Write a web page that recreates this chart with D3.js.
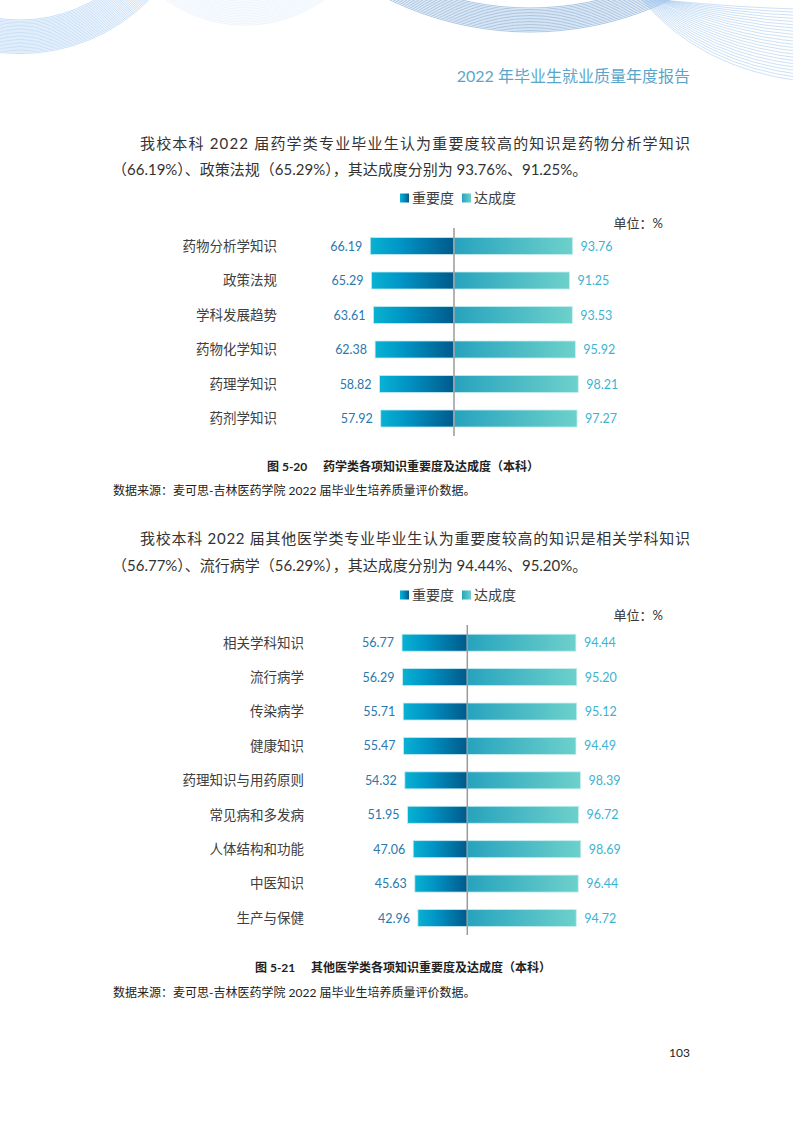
<!DOCTYPE html>
<html>
<head>
<meta charset="utf-8">
<script src="https://cdn.jsdelivr.net/npm/d3@7/dist/d3.min.js"></script>
<style>
  html, body { margin: 0; padding: 0; background: #fff; }
  svg { display: block; }
</style>
</head>
<body>
<svg id="page" width="793" height="1122"></svg>
<script>
// ---------- data ----------
const cats1 = ["药物分析学知识", "政策法规", "学科发展趋势", "药物化学知识", "药理学知识", "药剂学知识"];
const importance1 = [66.19, 65.29, 63.61, 62.38, 58.82, 57.92];
const achievement1 = [93.76, 91.25, 93.53, 95.92, 98.21, 97.27];

const cats2 = ["相关学科知识", "流行病学", "传染病学", "健康知识", "药理知识与用药原则", "常见病和多发病", "人体结构和功能", "中医知识", "生产与保健"];
const importance2 = [56.77, 56.29, 55.71, 55.47, 54.32, 51.95, 47.06, 45.63, 42.96];
const achievement2 = [94.44, 95.20, 95.12, 94.49, 98.39, 96.72, 98.69, 96.44, 94.72];

const seriesNames = ["重要度", "达成度"];
const unitLabel = "单位：%";

const para1 = ["我校本科 2022 届药学类专业毕业生认为重要度较高的知识是药物分析学知识",
               "（66.19%）、政策法规（65.29%），其达成度分别为 93.76%、91.25%。"];
const para2 = ["我校本科 2022 届其他医学类专业毕业生认为重要度较高的知识是相关学科知识",
               "（56.77%）、流行病学（56.29%），其达成度分别为 94.44%、95.20%。"];
const caption1 = ["图 5-20", "药学类各项知识重要度及达成度（本科）"];
const caption2 = ["图 5-21", "其他医学类各项知识重要度及达成度（本科）"];
const sourceText = "数据来源：麦可思-吉林医药学院 2022 届毕业生培养质量评价数据。";
const headerText = "2022 年毕业生就业质量年度报告";
const pageNum = "103";

// ---------- setup ----------
const FONT = "Lato, 'Noto Sans CJK SC', sans-serif";
const svg = d3.select("#page");
const defs = svg.append("defs");

const gImp = defs.append("linearGradient").attr("id", "gImp")
  .attr("x1", "0%").attr("x2", "100%").attr("y1", "0%").attr("y2", "0%");
gImp.append("stop").attr("offset", "0%").attr("stop-color", "#08b2d2");
gImp.append("stop").attr("offset", "35%").attr("stop-color", "#0096c6");
gImp.append("stop").attr("offset", "100%").attr("stop-color", "#005a8b");

const gAch = defs.append("linearGradient").attr("id", "gAch")
  .attr("x1", "0%").attr("x2", "100%").attr("y1", "0%").attr("y2", "0%");
gAch.append("stop").attr("offset", "0%").attr("stop-color", "#27a3be");
gAch.append("stop").attr("offset", "100%").attr("stop-color", "#6dd1cb");

// ---------- decorative header arcs ----------
const deco = svg.append("g").attr("fill", "none");
function arcs(cx, cy, radii, color, w, op) {
  deco.selectAll(null).data(radii).enter().append("circle")
    .attr("cx", cx).attr("cy", cy).attr("r", d => d)
    .attr("stroke", color).attr("stroke-width", w).attr("stroke-opacity", op);
}
arcs(20, -128, d3.range(148, 182, 1.4), "#9cc6f0", 0.6, 0.9);
arcs(245, -110, d3.range(108, 136, 1.6), "#c9e0f5", 0.5, 0.7);
arcs(530, -290, d3.range(298, 323, 1.5), "#6f9fd2", 0.7, 0.85);
// right fan
const fan = d3.range(0, 1.0001, 1 / 22);
deco.selectAll(null).data(fan).enter().append("path")
  .attr("d", t => {
    const sx = 642 + 20 * (1 - t), ey = 6 + 72 * t;
    const cx = 745 - 45 * t, cy = 8 + 60 * t;
    return `M${sx},0 Q${cx},${cy} 800,${ey + 3}`;
  })
  .attr("stroke", "#a9cdf0").attr("stroke-width", 0.6);

// header text
svg.append("text").attr("x", 690).attr("y", 82).attr("text-anchor", "end")
  .attr("font-family", FONT).attr("font-size", 16).attr("fill", "#5aa6cb")
  .text(headerText);

// ---------- paragraphs ----------
function paragraph(lines, y1, y2) {
  svg.append("text").attr("x", 140).attr("y", y1)
    .attr("font-family", FONT).attr("font-size", 15).attr("fill", "#333")
    .attr("textLength", 550).attr("lengthAdjust", "spacing")
    .text(lines[0]);
  svg.append("text").attr("x", 112).attr("y", y2)
    .attr("font-family", FONT).attr("font-size", 15).attr("fill", "#333")
    .text(lines[1]);
}
paragraph(para1, 149, 175);
paragraph(para2, 544, 571);

// ---------- chart ----------
function chart(opts) {
  const { cats, imp, ach, cx, y0, y1, pxPerUnit, labelX, axisTop, axisBottom, legendY, unitY } = opts;
  const g = svg.append("g");
  const x = d3.scaleLinear().domain([0, 100]).range([0, 100 * pxPerUnit]);
  const y = d3.scalePoint().domain(cats).range([y0, y1]);
  const bh = 17;

  // legend
  const leg = [{ name: seriesNames[0], fill: "url(#gImp)", x: 400 }, { name: seriesNames[1], fill: "url(#gAch)", x: 462 }];
  leg.forEach(l => {
    g.append("rect").attr("x", l.x).attr("y", legendY - 4.5).attr("width", 9).attr("height", 9).attr("fill", l.fill);
    g.append("text").attr("x", l.x + 12).attr("y", legendY).attr("dy", "0.36em")
      .attr("font-family", FONT).attr("font-size", 14).attr("fill", "#404040").text(l.name);
  });
  g.append("text").attr("x", 663).attr("y", unitY).attr("dy", "0.36em").attr("text-anchor", "end")
    .attr("font-family", FONT).attr("font-size", 13).attr("fill", "#333").text(unitLabel);

  const rows = cats.map((c, i) => ({ c, imp: imp[i], ach: ach[i] }));

  // bars
  g.selectAll(".bi").data(rows).enter().append("rect")
    .attr("x", d => cx - x(d.imp)).attr("y", d => y(d.c) - bh / 2)
    .attr("width", d => x(d.imp)).attr("height", bh)
    .attr("fill", "url(#gImp)").attr("stroke", "#c6eaf1").attr("stroke-width", 0.8);
  g.selectAll(".ba").data(rows).enter().append("rect")
    .attr("x", cx).attr("y", d => y(d.c) - bh / 2)
    .attr("width", d => x(d.ach)).attr("height", bh)
    .attr("fill", "url(#gAch)").attr("stroke", "#c6eef0").attr("stroke-width", 0.8);

  // axis line
  g.append("line").attr("x1", cx).attr("x2", cx).attr("y1", axisTop).attr("y2", axisBottom)
    .attr("stroke", "#9a9a9a").attr("stroke-width", 1.5);

  // category labels
  g.selectAll(".cl").data(rows).enter().append("text")
    .attr("x", labelX).attr("y", d => y(d.c)).attr("dy", "0.36em").attr("text-anchor", "end")
    .attr("font-family", FONT).attr("font-size", 13.5).attr("fill", "#404040").text(d => d.c);

  // value labels
  g.selectAll(".vl").data(rows).enter().append("text")
    .attr("x", d => cx - x(d.imp) - 8).attr("y", d => y(d.c)).attr("dy", "0.36em").attr("text-anchor", "end")
    .attr("font-family", FONT).attr("font-size", 12.5).attr("fill", "#2a78ad").text(d => d.imp.toFixed(2));
  g.selectAll(".vr").data(rows).enter().append("text")
    .attr("x", d => cx + x(d.ach) + 8).attr("y", d => y(d.c)).attr("dy", "0.36em").attr("text-anchor", "start")
    .attr("font-family", FONT).attr("font-size", 12.5).attr("fill", "#3cb3d2").text(d => d.ach.toFixed(2));
}

chart({ cats: cats1, imp: importance1, ach: achievement1, cx: 454, y0: 246, y1: 418.5, pxPerUnit: 1.265,
        labelX: 277, axisTop: 228, axisBottom: 436, legendY: 198, unitY: 223 });
chart({ cats: cats2, imp: importance2, ach: achievement2, cx: 467.3, y0: 642.7, y1: 918, pxPerUnit: 1.15,
        labelX: 304, axisTop: 625, axisBottom: 935, legendY: 595, unitY: 615 });

// ---------- captions ----------
function caption(c, x1, x2, y, sy) {
  svg.append("text").attr("x", x1).attr("y", y).attr("font-family", FONT).attr("font-size", 12)
    .attr("font-weight", "bold").attr("fill", "#222").text(c[0]);
  svg.append("text").attr("x", x2).attr("y", y).attr("font-family", FONT).attr("font-size", 12)
    .attr("font-weight", "bold").attr("fill", "#222").text(c[1]);
  svg.append("text").attr("x", 113).attr("y", sy).attr("font-family", FONT).attr("font-size", 12)
    .attr("fill", "#222").text(sourceText);
}
caption(caption1, 267, 323, 471, 495);
caption(caption2, 255, 311, 972, 997);

svg.append("text").attr("x", 690).attr("y", 1057).attr("text-anchor", "end")
  .attr("font-family", FONT).attr("font-size", 12).attr("fill", "#222").text(pageNum);
</script>
</body>
</html>
